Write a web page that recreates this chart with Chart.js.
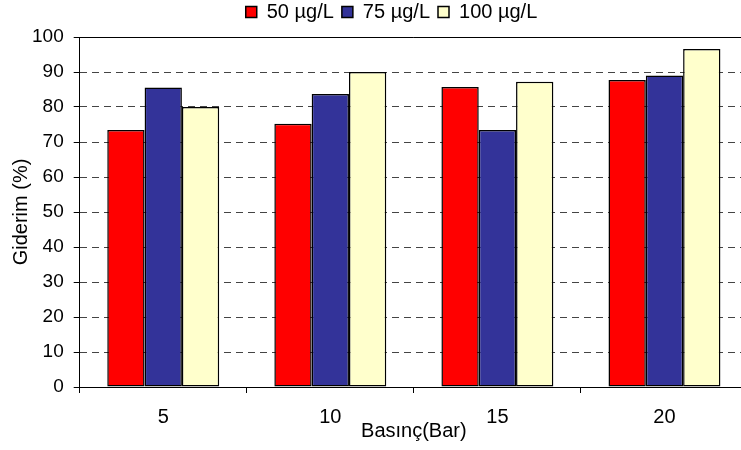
<!DOCTYPE html>
<html>
<head>
<meta charset="utf-8">
<script src="https://cdn.jsdelivr.net/npm/chart.js@4"></script>
<style>
  html, body { margin: 0; padding: 0; background: #fff; overflow: hidden; }
  #wrap { width: 760px; height: 450px; }
</style>
</head>
<body>
<div id="wrap"><canvas id="c" width="760" height="450"></canvas></div>
<script>
// Pressure values (bar) on the x axis
const pressures = ['5', '10', '15', '20'];
// Removal (%) for each initial concentration
const removal50 = [73.4, 75.2, 85.7, 87.7];
const removal75 = [85.6, 83.7, 73.4, 89.0];
const removal100 = [80.0, 90.0, 87.2, 96.6];
const seriesNames = ['50 µg/L', '75 µg/L', '100 µg/L'];
const yTicks = [0, 10, 20, 30, 40, 50, 60, 70, 80, 90, 100];

const FONT = "'Liberation Sans', Arial, sans-serif";

// Solid frame line along the top of the plot area
const topFrame = {
  id: 'topFrame',
  afterDatasetsDraw(chart) {
    const { ctx, chartArea } = chart;
    ctx.save();
    ctx.strokeStyle = '#000';
    ctx.lineWidth = 1;
    ctx.beginPath();
    ctx.moveTo(chartArea.left, Math.round(chartArea.top) + 0.5);
    ctx.lineTo(chartArea.right, Math.round(chartArea.top) + 0.5);
    ctx.stroke();
    ctx.restore();
  }
};

// Place the legend row: a little to the right and closer to the top edge
const legendShift = {
  id: 'legendShift',
  afterLayout(chart) {
    const lg = chart.legend;
    if (lg) {
      lg.left += 15; lg.right += 15;
      lg.top -= 5; lg.bottom -= 5;
    }
  }
};

new Chart(document.getElementById('c'), {
  type: 'bar',
  data: {
    labels: pressures,
    datasets: [
      { label: seriesNames[0], data: removal50, backgroundColor: '#FF0000' },
      { label: seriesNames[1], data: removal75, backgroundColor: '#333399' },
      { label: seriesNames[2], data: removal100, backgroundColor: '#FFFFCC' }
    ].map(d => Object.assign(d, { borderColor: '#000', borderWidth: 1.5, borderSkipped: false }))
  },
  plugins: [topFrame, legendShift],
  options: {
    responsive: false,
    animation: false,
    devicePixelRatio: 1,
    layout: { padding: { left: 5, right: 12, top: -1, bottom: 4 } },
    datasets: { bar: { categoryPercentage: 0.67, barPercentage: 1.0 } },
    plugins: {
      tooltip: { enabled: false },
      legend: {
        position: 'top',
        labels: {
          color: '#000',
          font: { family: FONT, size: 20, lineHeight: 1.2 },
          boxWidth: 11,
          boxHeight: 11,
          padding: 8
        }
      }
    },
    scales: {
      x: {
        grid: { display: true, drawOnChartArea: false, offset: true, tickLength: 6, tickColor: '#000', tickWidth: 1 },
        border: { display: true, color: '#000', width: 1 },
        ticks: { color: '#000', font: { family: FONT, size: 20, lineHeight: 1.2 }, padding: 12, maxRotation: 0 },
        title: { display: true, text: 'Basınç(Bar)', color: '#000', font: { family: FONT, size: 20, lineHeight: 1.2 }, padding: { top: -22, bottom: 3 } }
      },
      y: {
        min: 0,
        max: 100,
        afterBuildTicks(scale) { scale.ticks = yTicks.map(v => ({ value: v })); },
        grid: {
          color: '#444',
          lineWidth: 1,
          tickLength: 6,
          tickColor: '#000',
          tickWidth: 1
        },
        border: { display: true, color: '#000', width: 1, dash: [7, 5] },
        ticks: { color: '#000', font: { family: FONT, size: 19 }, padding: 10 },
        title: { display: true, text: 'Giderim (%)', color: '#000', font: { family: FONT, size: 20, lineHeight: 1.2 }, padding: { top: 4, bottom: -11 } }
      }
    }
  }
});
</script>
</body>
</html>
